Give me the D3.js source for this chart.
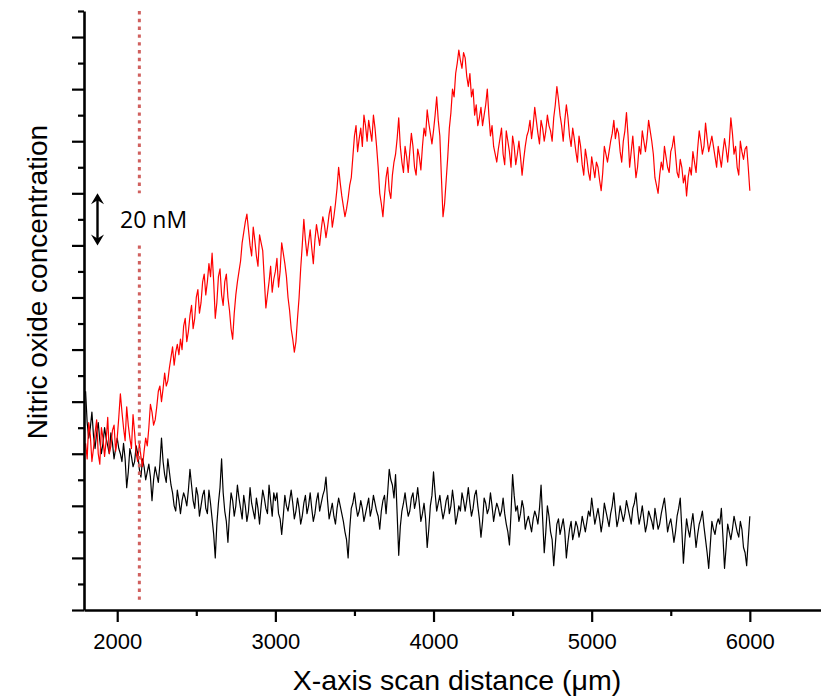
<!DOCTYPE html>
<html>
<head>
<meta charset="utf-8">
<script src="https://cdn.jsdelivr.net/npm/d3@7"></script>
<style>
  body { margin: 0; background: #fff; }
  svg { display: block; }
</style>
</head>
<body>
<svg id="chart" width="821" height="698"></svg>
<script>
// Scan sampling: first position and spacing along the X axis (µm)
const scanStart = 1800;
const scanStep = 10;

// NO concentration (nM), stimulated scan — one row per 200 µm
const redTrace = [
  64,58,72,67,57,62,68,73,60,56,70,66,59,65,74,60,63,69,71,61,
  66,74,83,76,70,65,78,71,66,62,75,68,60,57,64,59,55,61,66,63,
  70,79,76,71,73,78,84,86,80,85,91,86,88,93,97,101,94,99,102,98,
  104,100,109,112,103,107,113,117,108,112,120,123,114,118,126,129,121,126,133,128,
  137,126,112,118,128,131,121,117,126,129,120,115,108,104,114,121,126,130,134,141,
  145,149,152,146,140,136,147,142,136,132,144,141,138,127,116,121,126,132,122,127,
  130,135,124,130,141,137,133,128,120,115,108,104,99,103,112,120,131,140,150,142,
  136,141,146,139,133,142,148,144,140,146,151,148,143,147,152,155,147,151,156,162,
  170,164,159,155,151,154,158,163,166,174,182,186,176,181,185,178,190,186,180,188,
  184,180,190,185,178,170,160,156,151,159,166,170,161,158,167,172,175,181,189,178,
  172,168,178,174,168,176,183,178,170,167,177,174,169,178,185,182,192,187,183,179,
  184,190,197,188,182,166,151,156,165,174,185,191,200,197,206,210,215,211,208,214,
  212,205,201,206,197,200,190,194,186,189,193,186,190,194,200,190,182,186,178,175,
  172,177,181,185,175,171,184,180,176,170,182,178,171,175,180,174,167,173,178,182,
  184,188,181,186,193,188,183,179,188,185,180,184,190,186,184,180,189,194,201,196,
  190,186,180,188,194,189,182,178,185,181,176,172,182,178,171,167,177,173,168,165,
  174,170,166,172,170,165,161,168,178,175,172,176,180,183,188,181,185,183,176,172,
  180,184,191,182,170,176,182,174,166,170,178,175,184,180,176,181,188,184,180,175,
  166,163,160,167,172,169,178,174,170,168,176,178,182,175,168,166,173,170,164,167,
  159,166,170,167,176,172,168,177,184,180,175,178,187,181,176,179,182,178,174,170,
  178,174,170,176,181,177,172,179,189,183,175,178,170,167,180,176,173,177,178,170,
  161
];

// NO concentration (nM), control scan — one row per 200 µm
const blackTrace = [
  84,72,66,70,76,67,62,68,72,65,60,64,70,66,63,60,68,64,58,62,
  66,62,60,57,64,58,47,53,62,59,55,57,63,60,54,51,58,55,50,53,
  56,51,42,50,55,52,49,56,66,57,52,49,58,53,48,45,40,38,46,42,
  37,42,45,43,40,46,54,48,42,39,47,44,36,40,44,46,39,37,46,41,
  35,29,20,33,41,47,58,45,38,34,26,37,45,42,36,40,48,43,39,35,
  44,40,34,38,47,41,38,35,43,39,33,40,46,43,39,37,48,42,36,45,
  42,45,37,35,29,36,44,40,38,42,46,41,35,38,43,39,33,36,41,44,
  37,40,45,39,34,37,42,45,38,41,44,46,51,42,35,38,41,36,33,39,
  43,40,37,34,30,27,20,31,39,41,45,40,36,38,42,39,34,37,40,43,
  36,39,44,41,38,36,31,38,42,44,37,45,54,50,48,43,52,37,21,32,
  38,41,45,40,36,38,43,45,39,42,47,41,34,37,41,35,24,31,40,44,
  53,45,38,41,44,39,35,38,42,44,37,40,46,41,33,36,40,38,45,42,
  38,42,47,41,36,39,44,46,40,35,28,34,43,41,37,39,45,40,34,38,
  41,39,36,38,43,37,33,30,25,37,52,44,38,40,34,37,42,39,31,34,
  36,33,30,35,38,36,33,39,48,35,22,30,40,36,30,27,17,25,33,35,
  29,32,35,30,20,26,31,34,27,30,34,32,28,31,36,33,30,34,38,36,
  43,38,33,36,39,35,30,34,41,38,35,32,37,40,45,38,32,35,40,37,
  34,37,42,39,36,33,39,41,45,38,33,36,40,35,30,33,38,36,34,31,
  39,35,31,33,37,40,43,37,30,33,35,31,26,30,36,39,43,31,18,27,
  35,31,28,33,37,31,24,29,33,35,38,32,27,22,16,25,34,31,29,33,
  35,33,39,28,16,24,33,30,27,31,36,33,30,28,34,31,24,22,17,27,
  36
];

// Axis ticks
const xMajorTicks = [2000, 3000, 4000, 5000, 6000];
const xMinorTicks = [2500, 3500, 4500, 5500];
const yMajorTicks = [0, 20, 40, 60, 80, 100, 120, 140, 160, 180, 200, 220];
const yMinorTicks = [10, 30, 50, 70, 90, 110, 130, 150, 170, 190, 210, 230];

// Annotations
const markerPosition = 2140;                  // vertical dotted marker (µm)
const scaleBarFrom = 140, scaleBarTo = 160;   // 20 nM scale bar (nM)
const scaleBarLabel = "20 nM";
const xTitle = "X-axis scan distance (\u03bcm)";
const yTitle = "Nitric oxide concentration";

const svg = d3.select("#chart");
const plotLeft = 84, plotRight = 821, plotTop = 11, plotBottom = 610;

const x = d3.scaleLinear().domain([1790, 6450]).range([plotLeft, plotRight]);
const y = d3.scaleLinear().domain([0, 230]).range([plotBottom, plotTop]);

const toPoints = arr => arr.map((v, i) => ({ d: scanStart + i * scanStep, v }));

const line = d3.line().x(p => x(p.d)).y(p => y(p.v));

// Traces
svg.append("path")
  .datum(toPoints(blackTrace))
  .attr("d", line)
  .attr("fill", "none")
  .attr("stroke", "#000")
  .attr("stroke-width", 1.2)
  .attr("stroke-linejoin", "round");

svg.append("path")
  .datum(toPoints(redTrace))
  .attr("d", line)
  .attr("fill", "none")
  .attr("stroke", "#ff0000")
  .attr("stroke-width", 1.2)
  .attr("stroke-linejoin", "round");

// Dotted marker, interrupted around the scale bar label
const markerSegments = [[230, scaleBarTo], [scaleBarFrom, 2.5]];
svg.selectAll("line.marker")
  .data(markerSegments)
  .join("line")
  .attr("class", "marker")
  .attr("x1", x(markerPosition)).attr("x2", x(markerPosition))
  .attr("y1", s => y(s[0])).attr("y2", s => y(s[1]))
  .attr("stroke", "#d0605e")
  .attr("stroke-width", 3)
  .attr("stroke-dasharray", "3.4,4.4");

// Axes
const fontAxis = "'Liberation Sans', Arial, sans-serif";

const xAxis = svg.append("g")
  .attr("transform", `translate(0,${plotBottom})`)
  .call(d3.axisBottom(x).tickValues(xMajorTicks).tickSize(12).tickSizeOuter(0).tickFormat(d3.format("d")));
xAxis.select(".domain").attr("stroke-width", 2.6);
xAxis.selectAll(".tick line").attr("stroke-width", 2.2);
xAxis.selectAll(".tick text")
  .attr("y", 23).attr("dy", "0.71em")
  .style("font-family", fontAxis).style("font-size", "22px").attr("fill", "#000");

const xMinor = svg.append("g")
  .attr("transform", `translate(0,${plotBottom})`)
  .call(d3.axisBottom(x).tickValues(xMinorTicks).tickSize(6).tickSizeOuter(0).tickFormat(""));
xMinor.select(".domain").remove();
xMinor.selectAll(".tick line").attr("stroke-width", 2.2);

const yAxis = svg.append("g")
  .attr("transform", `translate(${plotLeft},0)`)
  .call(d3.axisLeft(y).tickValues(yMajorTicks).tickSize(12).tickSizeOuter(0).tickFormat(""));
yAxis.select(".domain").attr("stroke-width", 2.6);
yAxis.selectAll(".tick line").attr("stroke-width", 2.2);

const yMinor = svg.append("g")
  .attr("transform", `translate(${plotLeft},0)`)
  .call(d3.axisLeft(y).tickValues(yMinorTicks).tickSize(6).tickSizeOuter(0).tickFormat(""));
yMinor.select(".domain").remove();
yMinor.selectAll(".tick line").attr("stroke-width", 2.2);

// Titles
svg.append("text")
  .attr("x", 457).attr("y", 690)
  .attr("text-anchor", "middle")
  .style("font-family", fontAxis).style("font-size", "28.5px")
  .text(xTitle);

svg.append("text")
  .attr("transform", "translate(47,282) rotate(-90)")
  .attr("text-anchor", "middle")
  .style("font-family", fontAxis).style("font-size", "28px")
  .text(yTitle);

// 20 nM scale bar (double-headed arrow)
const ax = 97.5;
const yTop = y(scaleBarTo), yBot = y(scaleBarFrom);
svg.append("line")
  .attr("x1", ax).attr("x2", ax)
  .attr("y1", yTop + 4).attr("y2", yBot - 4)
  .attr("stroke", "#000").attr("stroke-width", 2.4);
const head = (tipY, dir) =>
  `M${ax},${tipY} L${ax + 6.5},${tipY + dir * 11} L${ax},${tipY + dir * 7} L${ax - 6.5},${tipY + dir * 11} Z`;
svg.append("path").attr("d", head(yTop, 1)).attr("fill", "#000");
svg.append("path").attr("d", head(yBot, -1)).attr("fill", "#000");

svg.append("text")
  .attr("x", 120).attr("y", 228)
  .style("font-family", "'Open Sans', sans-serif").style("font-size", "23px")
  .text(scaleBarLabel);
</script>
</body>
</html>
